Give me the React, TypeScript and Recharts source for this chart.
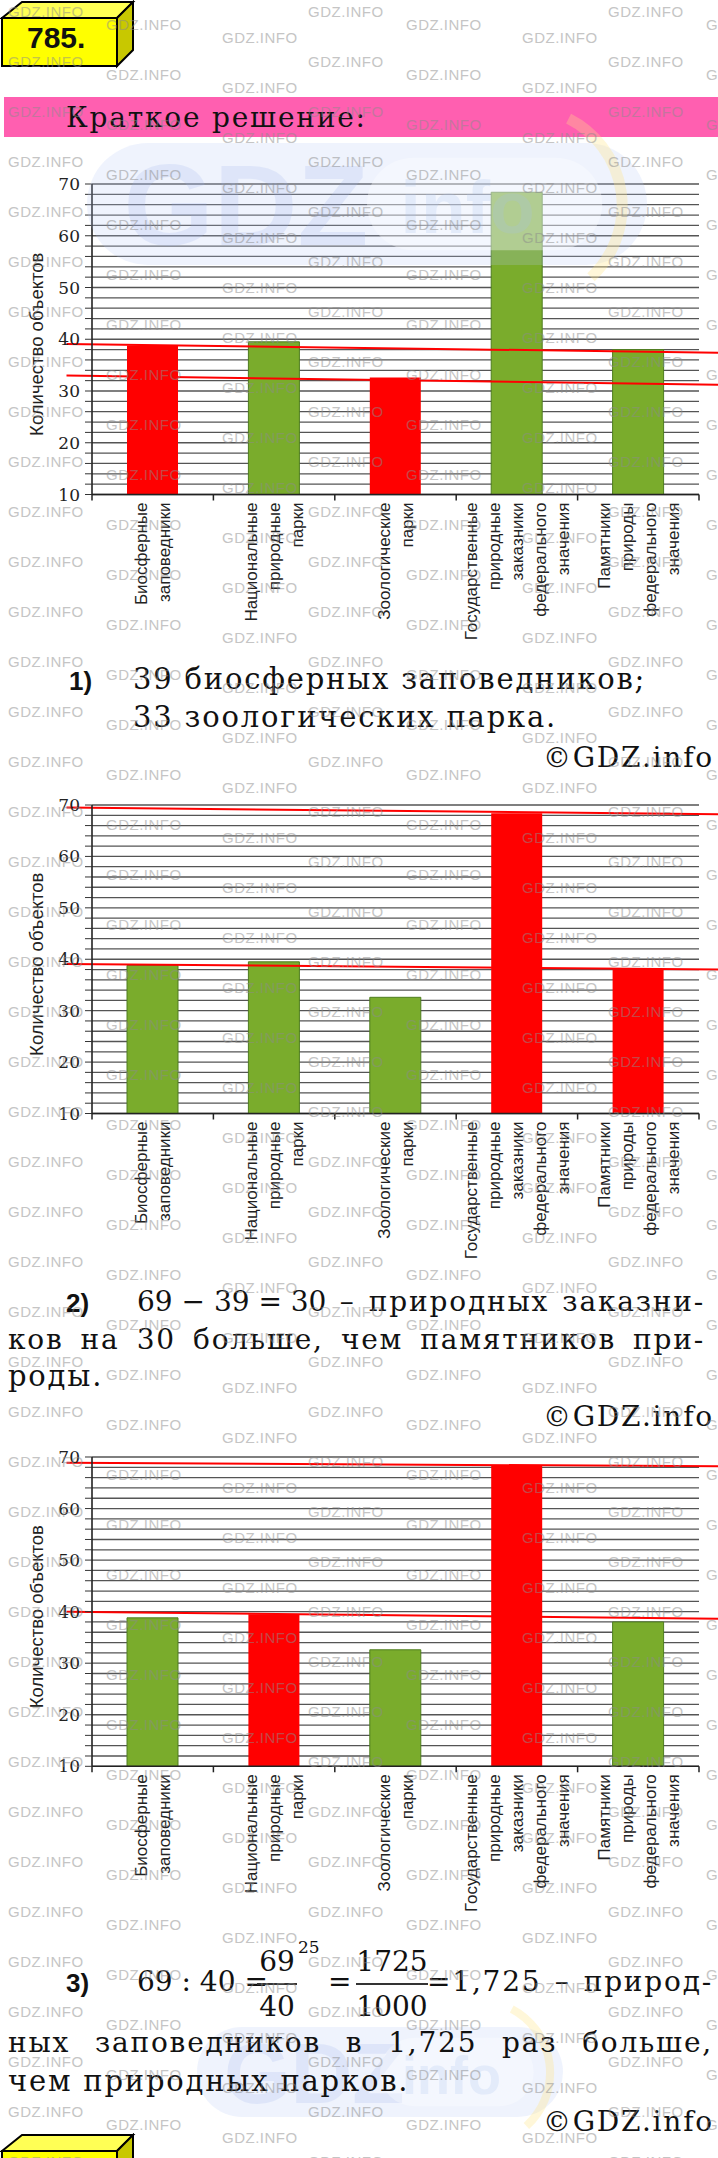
import React from 'react';
import { BarChart, Bar, XAxis, YAxis, CartesianGrid, Cell, ReferenceLine, Label } from 'recharts';

// categories (one entry per bar, split into the printed lines)
const categories = [
  ['Биосферные', 'заповедники'],
  ['Национальные', 'природные', 'парки'],
  ['Зоологические', 'парки'],
  ['Государственные', 'природные', 'заказники', 'федерального', 'значения'],
  ['Памятники', 'природы', 'федерального', 'значения'],
];
const counts = [38.8, 39.5, 32.6, 68.4, 38];
const yTicks = [10, 12, 14, 16, 18, 20, 22, 24, 26, 28, 30, 32, 34, 36, 38, 40, 42, 44, 46, 48, 50, 52, 54, 56, 58, 60, 62, 64, 66, 68, 70];
const xTicks = [0, 0.5, 1, 1.5, 2, 2.5, 3, 3.5, 4, 4.5, 5];

const RED = '#ff0000';
const GREEN = '#7aac2c';
const colors1 = [RED, GREEN, RED, GREEN, GREEN];
const colors2 = [GREEN, GREEN, GREEN, RED, RED];
const colors3 = [GREEN, RED, GREEN, RED, GREEN];

// hand drawn red lines: [xFrom, yFrom, xTo, yTo] in axis units
const lines1 = [[-0.21, 39.1, 5.16, 37.4], [-0.21, 33.0, 5.16, 31.2]];
const lines2 = [[-0.21, 69.5, 5.16, 68.2], [-0.21, 39.1, 5.16, 38.0]];
const lines3 = [[-0.21, 68.9, 5.16, 68.2], [-0.21, 40.0, 5.16, 38.6]];

const data = counts.map((value, i) => ({ pos: i + 0.5, value }));

const SERIF = 'DejaVu Serif';
const SANS = 'Liberation Sans';
const MARGIN_TOP = 20;
const LABEL_H = 165;

const XTick = (props: any) => {
  const { x, y, payload } = props;
  const v = payload.value;
  if (Number.isInteger(v)) {
    return <line x1={x} x2={x} y1={y} y2={y + 6} stroke="#222" strokeWidth={1.5} />;
  }
  const lines = categories[Math.floor(v)];
  return (
    <text transform={`translate(${x},${y + 8}) rotate(-90)`} textAnchor="end" fontFamily={SANS} fontSize={17} fill="#222">
      {lines.map((l, i) => (
        <tspan key={i} x={0} y={(i - (lines.length - 1) / 2) * 23 + 6}>{l}</tspan>
      ))}
    </text>
  );
};

const PlacesChart = ({ top, bottom, colors, marks }: any) => {
  const plotH = bottom - top;
  return (
    <div style={{ position: 'absolute', left: 0, top: top - MARGIN_TOP }}>
      <BarChart width={718} height={MARGIN_TOP + plotH + LABEL_H} data={data}
        margin={{ top: MARGIN_TOP, right: 19, bottom: 0, left: 0 }}>
        <CartesianGrid vertical={false} stroke="#555" strokeWidth={1.3} />
        <XAxis type="number" dataKey="pos" domain={[0, 5]} ticks={xTicks} interval={0} allowDataOverflow
          tickLine={false} tickSize={0} tickMargin={0} height={LABEL_H}
          tick={(p: any) => <XTick {...p} />}
          axisLine={{ stroke: '#222', strokeWidth: 1.6 }} />
        <YAxis type="number" domain={[10, 70]} ticks={yTicks} interval={0} width={92} allowDataOverflow
          tickSize={7} tickMargin={5} tickFormatter={(v: number) => (v % 10 === 0 ? String(v) : '')}
          tick={{ fill: '#222', fontSize: 17, fontFamily: SERIF }}
          tickLine={{ stroke: '#333' }} axisLine={{ stroke: '#222', strokeWidth: 1.6 }}>
          <Label content={(lp: any) => {
            const vb = lp.viewBox;
            const cx = vb.x + 37;
            const cy = vb.y + vb.height / 2 + 5;
            return (
              <text transform={`translate(${cx},${cy}) rotate(-90)`} textAnchor="middle" dy="0.35em"
                fontFamily={SANS} fontSize={18.5} fill="#222">Количество объектов</text>
            );
          }} />
        </YAxis>
        <Bar dataKey="value" barSize={51} isAnimationActive={false}>
          {colors.map((c: string, i: number) => (
            <Cell key={i} fill={c} stroke={c === GREEN ? '#4e7d1f' : 'none'} />
          ))}
        </Bar>
        {marks.map((m: number[], i: number) => (
          <ReferenceLine key={i} segment={[{ x: m[0], y: m[1] }, { x: m[2], y: m[3] }]}
            stroke={RED} strokeWidth={2} ifOverflow="visible" />
        ))}
      </BarChart>
    </div>
  );
};

const T = ({ x, base, size = 29, right, width, justify, bold, sans, style, children }: any) => (
  <div style={{
    position: 'absolute', left: right === undefined ? x : undefined, right: right,
    top: base - 0.846 * size, fontSize: size, lineHeight: `${size}px`,
    fontFamily: sans ? SANS : SERIF, fontWeight: bold ? 'bold' : 'normal',
    whiteSpace: 'nowrap', width: width,
    textAlign: justify ? 'justify' : 'left', textAlignLast: justify ? 'justify' : undefined,
    letterSpacing: sans ? 0 : 1.8, color: '#111', ...style,
  } as any}>{children}</div>
);

const Box = ({ y }: { y: number }) => (
  <svg width={140} height={70} style={{ position: 'absolute', left: 0, top: y }}>
    <polygon points="2,18 22,2 133,2 117,18" fill="#ffff55" stroke="#000" strokeWidth={2} />
    <polygon points="117,18 133,2 133,50 117,66" fill="#c8c800" stroke="#000" strokeWidth={2} />
    <rect x={2} y={18} width={115} height={48} fill="#ffff00" stroke="#000" strokeWidth={2} />
  </svg>
);

const Frac = ({ cx, w, top, bot }: any) => (
  <>
    <T x={cx - w / 2} base={1972} width={w} size={28} style={{ textAlign: 'center', letterSpacing: 0 }}>{top}</T>
    <div style={{ position: 'absolute', left: cx - w / 2, top: 1983, width: w, height: 1.5, background: '#333' }} />
    <T x={cx - w / 2} base={2017} width={w} size={28} style={{ textAlign: 'center', letterSpacing: 0 }}>{bot}</T>
  </>
);

// faint site logo printed over the page
const Logo = ({ x, y, w, h }: any) => (
  <g>
    <rect x={x} y={y} width={w} height={h} rx={h / 2} fill="#b8c8f4" opacity={0.22} />
    <text x={x + h * 0.3} y={y + h * 0.84} fontFamily={SANS} fontWeight="bold" fontSize={h * 0.95}
      fill="#9cb2ee" opacity={0.2}>GDZ</text>
    <rect x={x + w * 0.5} y={y + h * 0.12} width={w * 0.42} height={h * 0.76} rx={h * 0.38} fill="#fff" opacity={0.35} />
    <text x={x + w * 0.56} y={y + h * 0.74} fontFamily={SANS} fontWeight="bold" fontSize={h * 0.6}
      fill="#a8c2f0" opacity={0.22}>info</text>
    <path d={`M ${x + w * 0.86} ${y - h * 0.2} A ${h * 0.8} ${h * 0.8} 0 0 1 ${x + w * 0.9} ${y + h * 1.1}`}
      stroke="#ffe680" strokeWidth={h * 0.09} fill="none" opacity={0.3} />
  </g>
);

const Logos = () => (
  <svg width={718} height={2158} style={{ position: 'absolute', left: 0, top: 0, pointerEvents: 'none' }}>
    <Logo x={87} y={143} w={560} h={122} />
    <Logo x={197} y={2027} w={366} h={90} />
  </svg>
);

const Watermarks = () => {
  const items: any[] = [];
  const starts = [[8, 11.7], [106, 25], [222, 38.3]];
  for (let k = 0; k < 44; k++) {
    starts.forEach(([x0, y0], j) => {
      for (let x = x0; x < 718; x += 300) {
        items.push(
          <text key={`${k}-${j}-${x}`} x={x} y={y0 + k * 50 + 5} fontFamily={SANS} fontSize={15}
            letterSpacing={0.5} fill="#8c8c8c" opacity={0.5}>GDZ.INFO</text>
        );
      }
    });
  }
  return (
    <svg width={718} height={2158} style={{ position: 'absolute', left: 0, top: 0, pointerEvents: 'none' }}>
      {items}
    </svg>
  );
};

export default function App() {
  return (
    <div style={{ position: 'absolute', left: 0, top: 0, width: 718, height: 2158, background: '#fff', overflow: 'hidden' }}>
      <Box y={0} />
      <T x={27} base={48} size={30} bold sans>785.</T>

      <div style={{ position: 'absolute', left: 4, top: 97, width: 714, height: 40, background: '#ff5fb0' }} />

      <PlacesChart top={184} bottom={494.5} colors={colors1} marks={lines1} />
      <PlacesChart top={805} bottom={1113.5} colors={colors2} marks={lines2} />
      <PlacesChart top={1456.7} bottom={1766} colors={colors3} marks={lines3} />
      <Logos />

      <T x={66} base={128} size={28}>Краткое решение:</T>

      <T x={69} base={690} size={26} bold sans>1)</T>
      <T x={133} base={690}>39 биосферных заповедников;</T>
      <T x={133} base={728}>33 зоологических парка.</T>
      <T right={4} base={768} size={28}>©GDZ.info</T>

      <T x={66} base={1312} size={26} bold sans>2)</T>
      <T x={137} base={1312} width={568} size={28} justify>
        <span style={{ display: 'inline-block', letterSpacing: 0 }}>69 − 39 = 30</span> – природных заказни-
      </T>
      <T x={8} base={1350} width={697} size={28} justify>ков на 30 больше, чем памятников при-</T>
      <T x={8} base={1387}>роды.</T>
      <T right={4} base={1427} size={28}>©GDZ.info</T>

      <T x={66} base={1992} size={26} bold sans>3)</T>
      <T x={137} base={1992} size={28} style={{ letterSpacing: 0 }}>69 : 40 =</T>
      <Frac cx={277} w={40} top="69" bot="40" />
      <T x={298} base={1953} size={17} style={{ letterSpacing: 0 }}>25</T>
      <T x={328} base={1992} size={28}>=</T>
      <Frac cx={392} w={72} top="1725" bot="1000" />
      <T x={427} base={1992} width={286} size={28} justify>=1,725 – природ-</T>
      <T x={8} base={2053} width={705} size={28} justify>ных заповедников в 1,725 раз больше,</T>
      <T x={8} base={2092}>чем природных парков.</T>
      <T right={4} base={2132} size={28}>©GDZ.info</T>
      <Box y={2133} />

      <Watermarks />
    </div>
  );
}
